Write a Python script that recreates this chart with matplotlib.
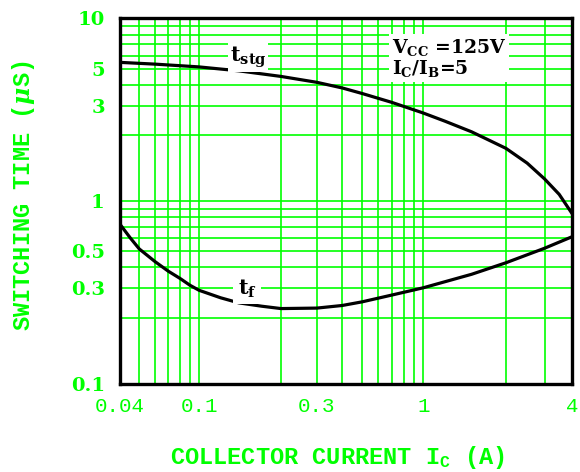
import matplotlib.pyplot as plt
import numpy as np
from matplotlib.ticker import LogLocator, NullFormatter

plt.rcParams['mathtext.fontset'] = 'custom'
plt.rcParams['mathtext.rm'] = 'DejaVu Serif:bold'
plt.rcParams['mathtext.it'] = 'DejaVu Serif:italic:bold'
plt.rcParams['mathtext.tt'] = 'Liberation Mono:bold'

# storage time vs collector current
ic_stg = [0.04, 0.06, 0.1, 0.14, 0.2, 0.3, 0.4, 0.5, 0.7, 1.0, 1.2, 1.5, 2.0, 2.5, 3.0, 3.5, 4.0]
t_stg = [5.46, 5.33, 5.13, 4.86, 4.50, 4.15, 3.84, 3.56, 3.15, 2.72, 2.43, 2.10, 1.745, 1.494,
         1.266, 1.076, 0.847]

# fall time
ic_f = [0.04, 0.045, 0.05, 0.06, 0.07, 0.08, 0.09, 0.1, 0.12, 0.14, 0.17, 0.2, 0.3, 0.4, 0.5,
        0.7, 1.0, 1.5, 2.0, 3.0, 4.0]
t_f = [0.727, 0.603, 0.517, 0.434, 0.380, 0.3445, 0.3128, 0.2918, 0.263, 0.2451, 0.234, 0.2265,
       0.228, 0.2364, 0.2485, 0.273, 0.302, 0.3641, 0.427, 0.522, 0.6117]

x_ticks = [0.04, 0.1, 0.3, 1, 4]
x_tick_labels = ["0.04", "0.1", "0.3", "1", "4"]
y_ticks = [0.1, 0.3, 0.5, 1, 3, 5, 10]
y_tick_labels = ["0.1", "0.3", "0.5", "1", "3", "5", "10"]

green = '#00ff00'

# the printed log paper isn't evenly spaced: the 1-2 part of some decades is
# stretched. piecewise log scale: (log10 value, fraction of axis length)
x_knots = ([np.log10(0.04), -1.0, np.log10(0.2), 0.0, np.log10(2), np.log10(4)],
           [0.0, 0.1748, 0.3562, 0.6710, 0.8540, 1.0])
y_knots = ([-1.0, np.log10(0.2), 0.0, np.log10(2), 1.0],
           [0.0, 0.1822, 0.5, 0.6803, 1.0])


def paper_scale(knots):
    lg, frac = knots

    def fwd(v):
        return np.interp(np.log10(np.clip(v, 1e-6, None)), lg, frac)

    def inv(f):
        return 10 ** np.interp(f, frac, lg)
    return fwd, inv


fig = plt.figure(figsize=(5.8, 4.72), dpi=100)
ax = fig.add_axes([0.207, 0.186, 0.779, 0.775])
ax.set_xscale('function', functions=paper_scale(x_knots))
ax.set_yscale('function', functions=paper_scale(y_knots))
ax.set_xlim(0.04, 4)
ax.set_ylim(0.1, 10)

ax.set_xticks(x_ticks, x_tick_labels)
ax.set_yticks(y_ticks, y_tick_labels)
for axis in (ax.xaxis, ax.yaxis):
    axis.set_minor_locator(LogLocator(base=10, subs=np.arange(2, 10)))
    axis.set_minor_formatter(NullFormatter())

ax.grid(True, which='both', color=green, lw=1.2)
ax.tick_params(which='both', length=0)
ax.tick_params(axis='x', pad=9, labelcolor=green)
ax.tick_params(axis='y', pad=11, labelcolor=green)
for lab in ax.get_xticklabels():
    lab.set_fontfamily('Liberation Mono')
    lab.set_fontsize(15)
for lab in ax.get_yticklabels():
    lab.set_fontfamily('DejaVu Serif')
    lab.set_fontweight('bold')
    lab.set_fontsize(14)

for sp in ax.spines.values():
    sp.set_linewidth(2.4)
    sp.set_color('black')

ax.plot(ic_stg, t_stg, color='black', lw=2.3)
ax.plot(ic_f, t_f, color='black', lw=2.3)

ax.text(0.283, 0.893, r't$_{\mathrm{stg}}$', transform=ax.transAxes, ha='center', va='center',
        fontfamily='DejaVu Serif', fontweight='bold', fontsize=15,
        bbox=dict(facecolor='white', edgecolor='none', pad=1))
ax.text(0.281, 0.262, r't$_{\mathrm{f}}$', transform=ax.transAxes, ha='center', va='center',
        fontfamily='DejaVu Serif', fontweight='bold', fontsize=15,
        bbox=dict(facecolor='white', edgecolor='none', pad=3))
ax.text(0.602, 0.95, 'V$_{\\mathrm{CC}}$ =125V\nI$_{\\mathrm{C}}$/I$_{\\mathrm{B}}$=5',
        transform=ax.transAxes, ha='left', va='top', linespacing=1.0,
        fontfamily='DejaVu Serif', fontweight='bold', fontsize=13.5,
        bbox=dict(facecolor='white', edgecolor='none', pad=2))

ax.set_xlabel(r'COLLECTOR CURRENT I$_{\mathtt{C}}$ (A)', color=green,
              fontfamily='Liberation Mono', fontweight='bold', fontsize=17)
ax.xaxis.set_label_coords(0.482, -0.163)
ax.set_ylabel(r'SWITCHING TIME ($\mu$S)', color=green,
              fontfamily='Liberation Mono', fontweight='bold', fontsize=17)
ax.yaxis.set_label_coords(-0.184, 0.516)

fig.savefig('out.png', dpi=100)
